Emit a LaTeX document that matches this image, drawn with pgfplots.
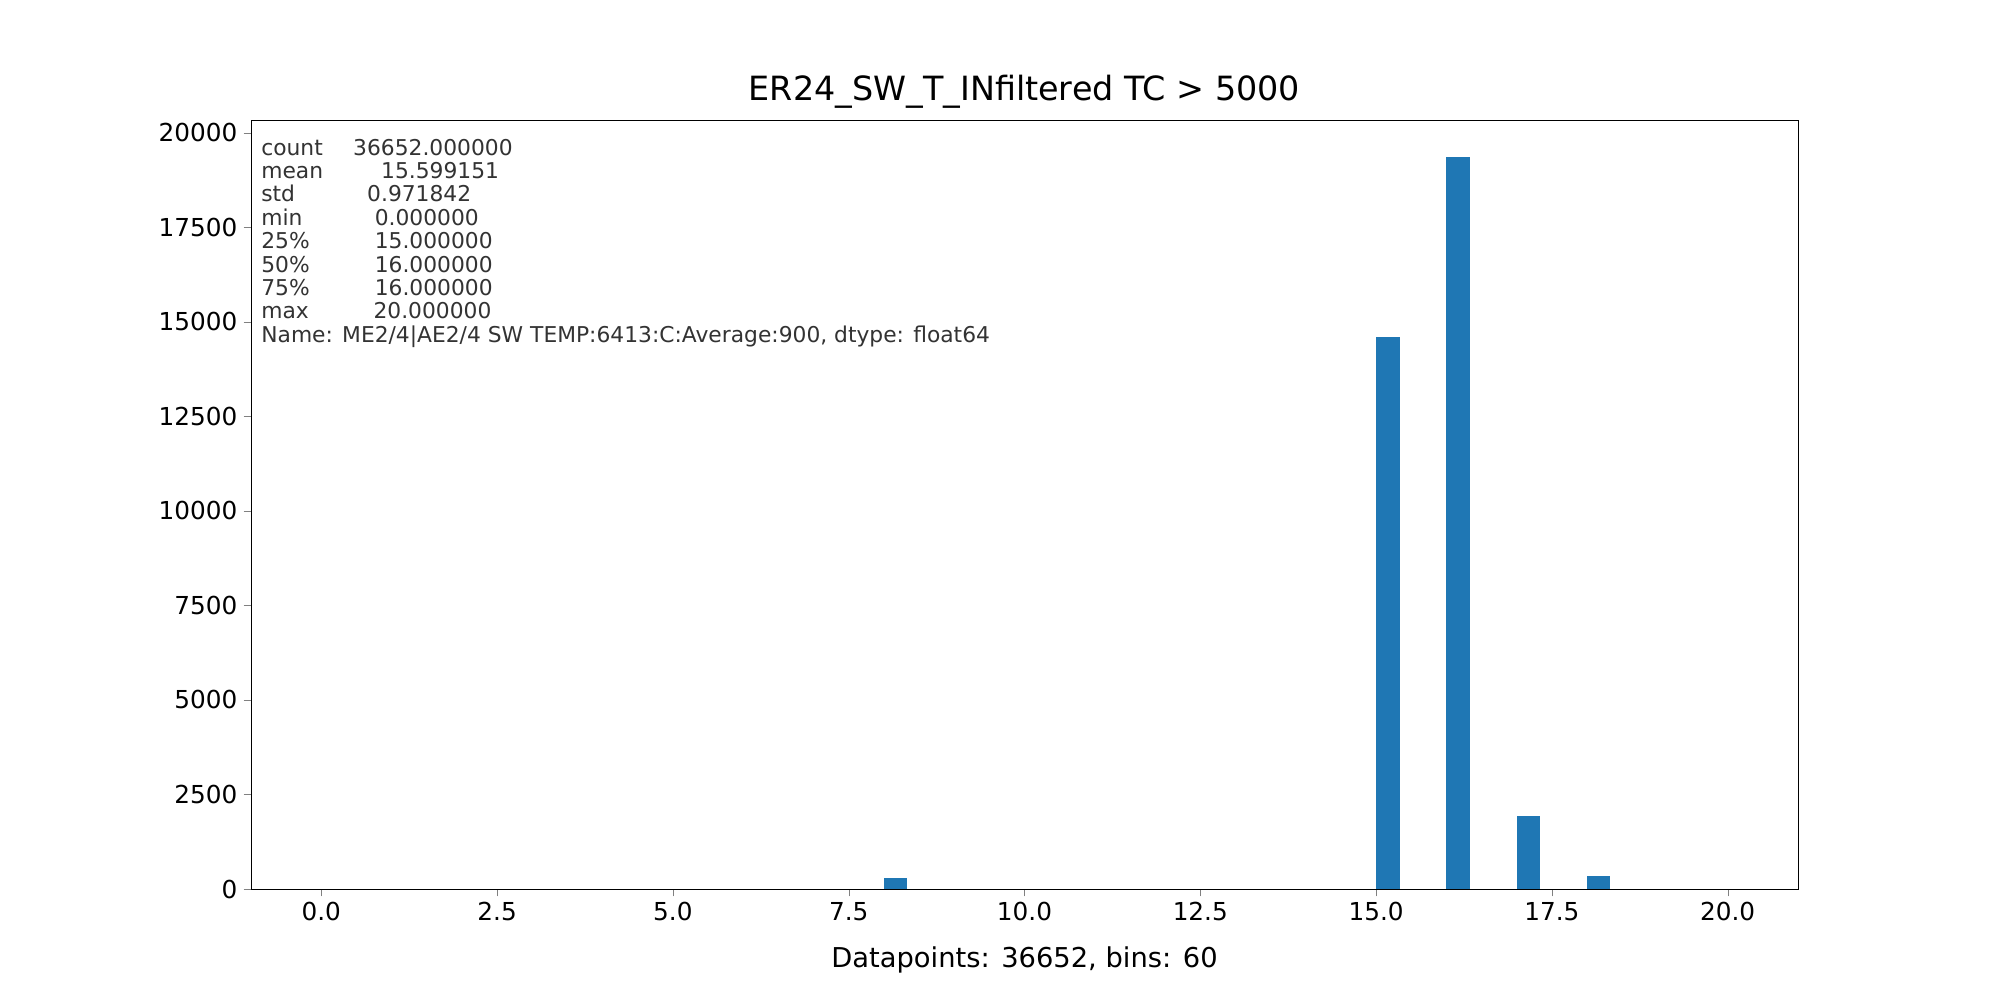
\documentclass[border=0pt]{standalone}
\usepackage{pgfplots}
\pgfplotsset{compat=1.18}
\usepackage{fontspec}
\setmainfont{DejaVu Sans}
\definecolor{mplblue}{HTML}{1F77B4}
\newcommand{\row}[2]{\makebox[#1in][l]{#2}}
\begin{document}
\begin{tikzpicture}
\path[fill=white] (0,0) rectangle (16in,8in);
\begin{axis}[
  at={(2.008in,0.888in)}, anchor=south west,
  scale only axis, width=12.376in, height=6.152in,
  xmin=-1, xmax=21, ymin=0, ymax=20336,
  xtick={0,2.5,...,20}, ytick={0,2500,...,20000},
  xticklabel style={/pgf/number format/.cd,fixed,fixed zerofill,precision=1},
  yticklabel style={/pgf/number format/.cd,fixed,1000 sep={}},
  /pgf/number format/assume math mode=true,
  tick label style={font=\fontsize{14.3}{16}\selectfont},
  tick align=outside, tick pos=left, major tick length=0.06in,
  scaled ticks=false,
  title={ER24\_SW\_T\_INfiltered TC > 5000},
  title style={font=\fontsize{19.3}{22}\selectfont, yshift=-3pt},
  xlabel={Datapoints: 36652, bins: 60},
  xlabel style={font=\fontsize{15.8}{18}\selectfont, yshift=-8pt},
]
\addplot[ybar interval, fill=mplblue, draw=none] coordinates {
(8,300) (8.3333,0)
};
\addplot[ybar interval, fill=mplblue, draw=none] coordinates {
(15,14604) (15.3333,0)
};
\addplot[ybar interval, fill=mplblue, draw=none] coordinates {
(16,19359) (16.3333,0)
};
\addplot[ybar interval, fill=mplblue, draw=none] coordinates {
(17,1922) (17.3333,0)
};
\addplot[ybar interval, fill=mplblue, draw=none] coordinates {
(18,337) (18.3333,0)
};
\node[anchor=north west, inner sep=0pt, align=left, font=\fontsize{12.6}{13.5}\selectfont, text=black!80] at (rel axis cs:0,1) [xshift=0.08in, yshift=-0.15in] {%
\row{0.735}{count}36652.000000\\
\row{0.959}{mean}15.599151\\
\row{0.847}{std}0.971842\\
\row{0.908}{min}0.000000\\
\row{0.908}{25\%}15.000000\\
\row{0.908}{50\%}16.000000\\
\row{0.908}{75\%}16.000000\\
\row{0.898}{max}20.000000\\
Name: ME2/4|AE2/4 SW TEMP:6413:C:Average:900, dtype: float64};
\end{axis}
\end{tikzpicture}
\end{document}
